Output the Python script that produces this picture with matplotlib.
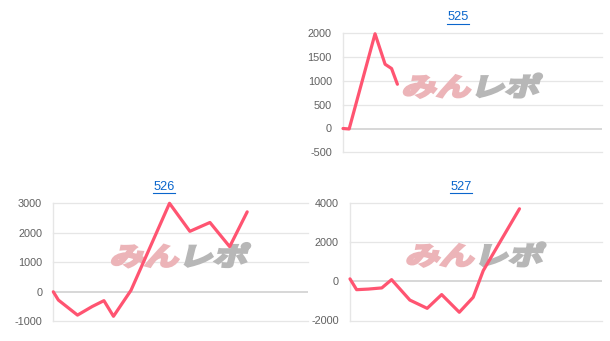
import matplotlib
matplotlib.use("Agg")
import matplotlib.pyplot as plt
from matplotlib.font_manager import FontProperties
from matplotlib.lines import Line2D
from matplotlib.patches import PathPatch
from matplotlib.textpath import TextPath
from matplotlib.transforms import Affine2D, Bbox, IdentityTransform

# ── Data (games played → cumulative balance) ──────────────────────────────────
games_525 = [0, 190, 990, 1300, 1500, 1680]
coins_525 = [0, -10, 1990, 1350, 1260, 930]

games_526 = [0, 160, 760, 1220, 1590, 1890, 2440, 3650, 4290, 4920, 5540, 6090]
coins_526 = [0, -280, -790, -500, -300, -830, 50, 3000, 2050, 2350, 1530, 2710]

games_527 = [0, 210, 580, 1010, 1320, 1900, 2450, 2910, 3470, 3910, 4230, 5380]
coins_527 = [120, -430, -400, -340, 80, -960, -1380, -680, -1580, -820, 540, 3690]

titles = ["525", "526", "527"]
yticks_525 = [-500, 0, 500, 1000, 1500, 2000]
yticks_526 = [-1000, 0, 1000, 2000, 3000]
yticks_527 = [-2000, 0, 2000, 4000]
max_games = 8000

LINE_COLOR = "#ff5471"
GRID_COLOR = "#e6e6e6"
LABEL_COLOR = "#606060"
LINK_COLOR = "#0a66cc"

W, H = 610, 341
plt.rcParams["font.family"] = ["Liberation Sans", "DejaVu Sans"]

fig = plt.figure(figsize=(W / 100, H / 100), dpi=100)


def px_axes(left, top, right, bottom):
    return fig.add_axes([left / W, 1 - bottom / H, (right - left) / W, (bottom - top) / H])


def add_logo(ax):
    # watermark: skewed, stretched "みんレポ"
    fp = FontProperties(family="Noto Sans CJK JP", weight="bold")
    size = 100
    p1 = TextPath((0, 0), "みん", size=size, prop=fp)
    p2 = TextPath((2 * size, 0), "レポ", size=size, prop=fp)
    ext = Bbox.union([p1.get_extents(), p2.get_extents()])
    sx = 134 / ext.width
    sy = 24 / ext.height
    cx, cy = ax.transAxes.transform((0.5, 0.56))
    tr = (Affine2D()
          .translate(-ext.x0 - ext.width / 2, -ext.y0 - ext.height / 2)
          .scale(sx, sy)
          .skew_deg(14, 0)
          .translate(cx, cy))
    ax.add_patch(PathPatch(p1, transform=tr, fc="#ecb4b8", ec="#ecb4b8", lw=1.8,
                           joinstyle="miter", zorder=1.5, clip_on=False))
    ax.add_patch(PathPatch(p2, transform=tr, fc="#b7b7b7", ec="#b7b7b7", lw=1.8,
                           joinstyle="miter", zorder=1.5, clip_on=False))


def style_axes(ax, yticks):
    ax.set_xlim(0, max_games)
    ax.set_ylim(yticks[0], yticks[-1])
    ax.set_yticks(yticks)
    ax.set_yticklabels([str(t) for t in yticks])
    ax.set_xticks([])
    for side in ["top", "right", "bottom"]:
        ax.spines[side].set_visible(False)
    ax.spines["left"].set_color(GRID_COLOR)
    ax.spines["left"].set_linewidth(1.0)
    ax.tick_params(axis="y", length=0, pad=8, labelsize=7.8, labelcolor=LABEL_COLOR)
    for t in yticks:
        if t == 0:
            ax.axhline(t, color="#d4d4d4", lw=1.3, zorder=1)
        else:
            ax.axhline(t, color=GRID_COLOR, lw=0.9, zorder=1, clip_on=False)
    ax.set_facecolor("none")


def plot_line(ax, games, coins):
    ax.plot(games, coins, color=LINE_COLOR, lw=2.3, zorder=3,
            solid_joinstyle="round", solid_capstyle="round", clip_on=False)


ax525 = px_axes(343, 33.3, 602, 152.3)
ax526 = px_axes(53.3, 203.3, 308, 321.3)
ax527 = px_axes(350, 202.7, 602, 320.5)

for ax, games, coins, yt in [(ax525, games_525, coins_525, yticks_525),
                             (ax526, games_526, coins_526, yticks_526),
                             (ax527, games_527, coins_527, yticks_527)]:
    style_axes(ax, yt)
    add_logo(ax)
    plot_line(ax, games, coins)

# titles (links, underlined)
title_pos = [(458, 17), (164, 187), (461, 187)]
title_texts = []
for name, (x, y) in zip(titles, title_pos):
    t = fig.text(x / W, 1 - y / H, name, ha="center", va="center",
                 fontsize=9.2, color=LINK_COLOR)
    title_texts.append(t)

fig.canvas.draw()
renderer = fig.canvas.get_renderer()
for t in title_texts:
    bb = t.get_window_extent(renderer)
    y_line = bb.y0 - 0.5
    fig.add_artist(Line2D([bb.x0, bb.x1], [y_line, y_line], transform=IdentityTransform(),
                          color=LINK_COLOR, lw=0.8))

fig.savefig("out.png", dpi=100, facecolor="white")
